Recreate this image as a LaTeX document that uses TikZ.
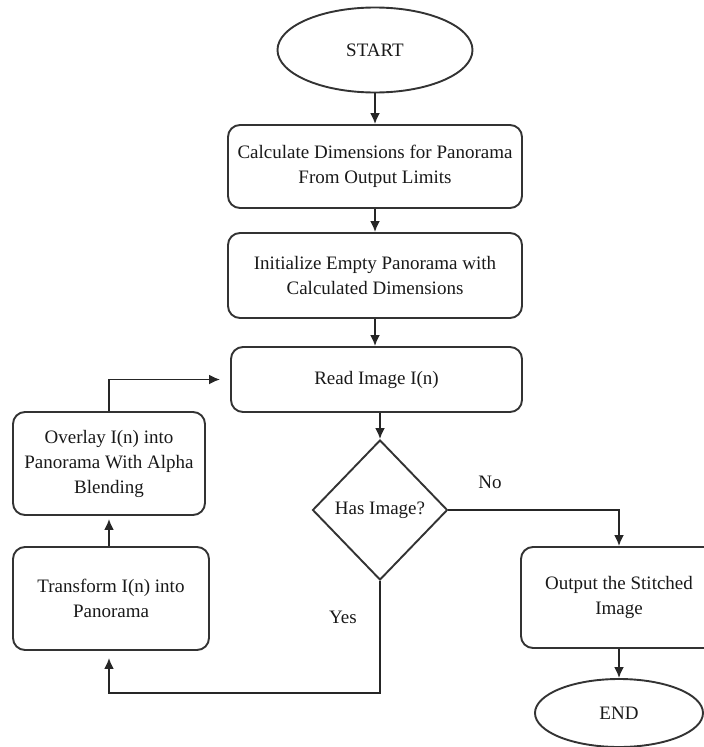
\documentclass[tikz,border=0pt]{standalone}
\usepackage{fontspec}
\setmainfont{Liberation Serif}
\usetikzlibrary{shapes.geometric,arrows.meta,calc}

\tikzset{
  lbl/.style={font=\fontsize{19}{25}\selectfont, text=black!90, align=center},
  procbox/.style={lbl, draw=black!80, line width=1.9pt, rounded corners=12pt, inner sep=0pt},
  termnode/.style={lbl, ellipse, draw=black!80, line width=1.9pt, inner sep=0pt},
  decision/.style={lbl, diamond, draw=black!80, line width=1.9pt, inner sep=0pt},
  flow/.style={draw=black!85, line width=1.9pt, -{Latex[length=11pt,width=10pt]}},
  side/.style={font=\fontsize{19}{25}\selectfont, text=black!90}
}

\begin{document}
\begin{tikzpicture}[x=1pt, y=-1pt]
  \useasboundingbox (0,0) rectangle (704,747);
  \clip (0,0) rectangle (704,747);

  % terminals
  \node[termnode, minimum width=195pt, minimum height=85pt] (start) at (375,50) {START};
  \node[termnode, minimum width=168pt, minimum height=68pt] (stop) at (619,713) {END};

  % main column
  \node[procbox, minimum width=294pt, minimum height=83pt] (calc) at (375,166.5)
    {Calculate Dimensions for Panorama\\From Output Limits};
  \node[procbox, minimum width=294pt, minimum height=85pt] (init) at (375,275.5)
    {Initialize Empty Panorama with\\Calculated Dimensions};
  \node[procbox, minimum width=291pt, minimum height=65pt] (read) at (376.5,379.5)
    {Read Image I(n)};
  \node[decision, minimum width=135pt, minimum height=140pt] (has) at (380,510)
    {Has Image?};

  % loop body
  \node[procbox, minimum width=192pt, minimum height=103pt] (overlay) at (109,463.5)
    {Overlay I(n) into\\Panorama With Alpha\\Blending};
  \node[procbox, minimum width=196pt, minimum height=103pt] (transform) at (111,598.5)
    {Transform I(n) into\\Panorama};

  % result
  \node[procbox, minimum width=196pt, minimum height=101pt] (output) at (619,597.5)
    {Output the Stitched\\Image};

  % branch labels
  \node[side] (nolbl) at (490,482) {No};
  \node[side] (yeslbl) at (343,617) {Yes};

  \coordinate (yesturn) at (380,693);

  % connectors
  \draw[flow] (start) -- (calc);
  \draw[flow] (calc) -- (init);
  \draw[flow] (init.south) -- (init.south |- read.north);
  \draw[flow] (has.north |- read.south) -- (has.north);
  \draw[flow] (has.east) -| (output.north);
  \draw[flow] (output) -- (stop);
  \draw[flow, shorten >=7pt] (has.south) -- (yesturn) -| (overlay.south |- transform.south);
  \draw[flow, shorten >=3pt] (overlay.south |- transform.north) -- (overlay.south);
  \draw[flow, shorten >=10pt] (overlay.north) |- (read.west);
\end{tikzpicture}
\end{document}
